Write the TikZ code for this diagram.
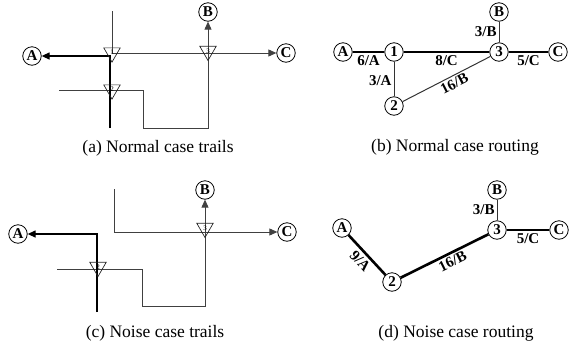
\documentclass[tikz,border=0pt]{standalone}
\usepackage{fontspec}
\setmainfont{Liberation Serif}
\usetikzlibrary{shapes.geometric, arrows.meta, positioning}

\begin{document}
\begin{tikzpicture}[
  x=1pt, y=-1pt,
  font=\fontsize{15}{17}\selectfont\bfseries,
  endpt/.style={circle, draw=black, line width=0.8pt, fill=white, minimum size=18.5pt, inner sep=0pt},
  router/.style={regular polygon, regular polygon sides=3, shape border rotate=180, draw=black!85,
                 line width=0.7pt, minimum size=19pt, inner sep=0pt, font=\normalfont\fontsize{7}{7}\selectfont},
  trail/.style={line width=0.9pt, black!75, -{Triangle[length=8pt, width=7pt]}},
  mtrail/.style={trail, line width=1.3pt, black},
  hop/.style={line width=1pt, black!80},
  best/.style={line width=2.6pt, black},
  cost/.style={font=\fontsize{15}{17}\selectfont\bfseries, text=black, inner sep=2pt},
  caption/.style={font=\normalfont\fontsize{17.5}{20}\selectfont},
]
  \useasboundingbox (0,0) rectangle (571,349);

  % --- (a) normal case trails ---
  \node[endpt] (aA) at (32,56) {A};
  \node[endpt] (aB) at (208,12) {B};
  \node[endpt] (aC) at (286,53) {C};
  \coordinate (a1in) at (110,128);
  \coordinate (a2in) at (112,11);
  \coordinate (a3in) at (59,90);
  \coordinate (a3turn) at (143,128);
  \draw[trail] (a2in) |- (aC);
  \draw[trail] (a3in) -| (a3turn) -| (aB);
  \draw[mtrail] (a1in) |- (aA);
  \node[router] (a1) at (112,52.6) {1};
  \node[router] (a2) at (112,89.6) {2};
  \node[router] (a3) at (208,51) {3};

  % --- (b) normal case routing ---
  \node[endpt] (bA) at (343,52) {A};
  \node[endpt] (b1) at (394,52) {1};
  \node[endpt] (b2) at (394,106) {2};
  \node[endpt] (b3) at (499,52) {3};
  \node[endpt] (bB) at (499,12) {B};
  \node[endpt] (bC) at (558,52) {C};
  \draw[best] (bA) -- node[cost, below] {6/A} (b1);
  \draw[best] (b1) -- node[cost, below] {8/C} (b3);
  \draw[best] (b3) -- node[cost, below] {5/C} (bC);
  \draw[hop] (b1) -- node[cost, left, pos=0.55] {3/A} (b2);
  \draw[hop] (b2) -- node[cost, below, sloped, pos=0.55] {16/B} (b3);
  \draw[hop] (bB) -- node[cost, left] {3/B} (b3);

  % --- (c) noise case trails ---
  \node[endpt] (cA) at (18,234) {A};
  \node[endpt] (cB) at (205,190) {B};
  \node[endpt] (cC) at (287,232) {C};
  \coordinate (c1in) at (97,312);
  \coordinate (c2in) at (114,189);
  \coordinate (c3in) at (57,269);
  \coordinate (c3turn) at (142,306);
  \draw[trail] (c2in) |- (cC);
  \draw[trail] (c3in) -| (c3turn) -| (cB);
  \draw[mtrail] (c1in) |- (cA);
  \node[router] (c2) at (98,267) {2};
  \node[router] (c3) at (205,228) {3};

  % --- (d) noise case routing ---
  \node[endpt] (dA) at (342,228) {A};
  \node[endpt] (d2) at (392,282) {2};
  \node[endpt] (d3) at (497,230) {3};
  \node[endpt] (dB) at (497,190) {B};
  \node[endpt] (dC) at (559,230) {C};
  \draw[best] (dA) -- node[cost, below=1pt, sloped] {9/A} (d2);
  \draw[best] (d2) -- node[cost, below, sloped, pos=0.55] {16/B} (d3);
  \draw[best] (d3) -- node[cost, below] {5/C} (dC);
  \draw[hop] (dB) -- node[cost, left] {3/B} (d3);

  % --- captions ---
  \foreach \p/\x/\y/\txt in {a/158/148/{(a) Normal case trails}, b/455/147/{(b) Normal case routing},
                             c/155/333/{(c) Noise case trails}, d/456/333/{(d) Noise case routing}} {
    \node[caption] (cap\p) at (\x,\y) {\txt};
  }
\end{tikzpicture}
\end{document}
